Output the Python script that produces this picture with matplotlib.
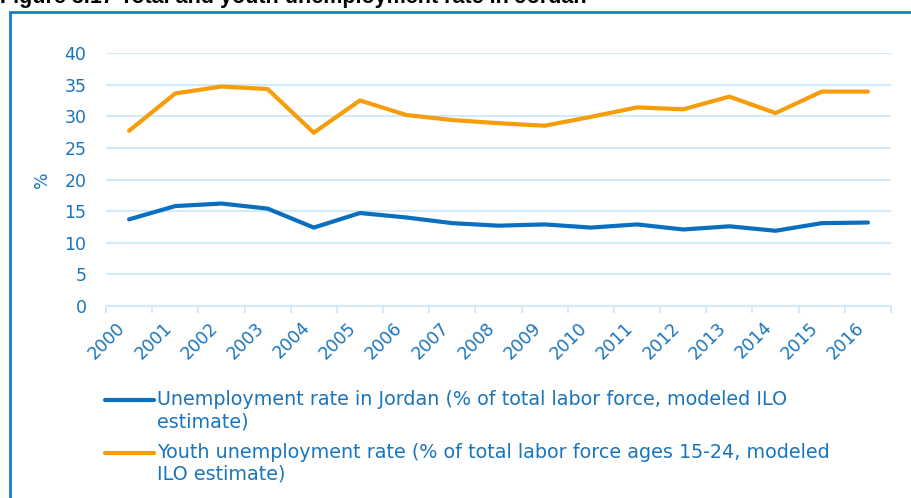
import matplotlib
matplotlib.use('Agg')
import matplotlib.pyplot as plt
import numpy as np
from matplotlib.legend_handler import HandlerLine2D
from matplotlib.patches import Rectangle
from matplotlib.transforms import ScaledTranslation

years = [str(y) for y in range(2000, 2017)]
total_rate = [13.7, 15.8, 16.2, 15.4, 12.4, 14.7, 14.0, 13.1, 12.7, 12.9,
              12.4, 12.9, 12.1, 12.6, 11.9, 13.1, 13.2]
youth_rate = [27.7, 33.6, 34.7, 34.3, 27.4, 32.5, 30.2, 29.4, 28.9, 28.5,
              29.9, 31.4, 31.1, 33.1, 30.5, 33.9, 33.9]
labels = ['Unemployment rate in Jordan (% of total labor force, modeled ILO\nestimate)',
          'Youth unemployment rate (% of total labor force ages 15-24, modeled\nILO estimate)']

txt_blue = '#1b75bc'
grid_col = '#d3eafc'
blue = '#0b6fbf'
orange = '#f59d0a'

plt.rcParams['font.family'] = ['DejaVu Sans']
fs = 12.5


class TopHandler(HandlerLine2D):
    # put the legend key next to the first line of a wrapped label
    def create_artists(self, legend, orig_handle, xdescent, ydescent, width, height, fontsize, trans):
        arts = super().create_artists(legend, orig_handle, xdescent, ydescent, width, height, fontsize, trans)
        for a in arts:
            a.set_ydata(np.asarray(a.get_ydata()) + 0.6 * fontsize)
        return arts


fig = plt.figure(figsize=(9.12, 4.98), dpi=100)
ax = fig.add_axes([0.1162, 0.3855, 0.8608, 0.5081])

x = np.arange(len(years))
l1, = ax.plot(x, total_rate, color=blue, lw=3, solid_capstyle='round', solid_joinstyle='round')
l2, = ax.plot(x, youth_rate, color=orange, lw=3, solid_capstyle='round', solid_joinstyle='round')

ax.set_xlim(-0.5, len(years) - 0.5)
ax.set_ylim(0, 40)
ax.set_yticks(np.arange(0, 41, 5))
ax.set_xticks(x)
ax.set_xticklabels(years, rotation=45, ha='right', color=txt_blue, fontsize=fs)
shift = ScaledTranslation(4 / 72, 0, fig.dpi_scale_trans)
for lab in ax.get_xticklabels():
    lab.set_transform(lab.get_transform() + shift)
ax.set_xticks(np.arange(-0.5, len(years), 1), minor=True)
ax.tick_params(axis='x', which='major', length=0, pad=9)
ax.tick_params(axis='x', which='minor', length=5, width=1.5, color=grid_col)
ax.tick_params(axis='y', length=0, pad=14, labelcolor=txt_blue, labelsize=fs)

ax.grid(axis='y', color=grid_col, lw=1.5)
ax.set_axisbelow(True)
for s in ['top', 'right', 'left']:
    ax.spines[s].set_visible(False)
ax.spines['bottom'].set_color(grid_col)
ax.spines['bottom'].set_linewidth(1.5)
ax.set_ylabel('%', color=txt_blue, fontsize=fs, labelpad=9.5)

fig.legend([l1, l2], labels, loc='upper left', bbox_to_anchor=(0.1, 0.243),
           frameon=False, fontsize=13.8, handlelength=2.6, handletextpad=0.12,
           labelcolor=txt_blue, labelspacing=0.6, borderpad=0.2,
           handler_map={l1: TopHandler(), l2: TopHandler()})

# outer frame of the figure box
fig.add_artist(Rectangle((0.0115, -0.1), 1.2, 1.076, transform=fig.transFigure,
                         fill=False, edgecolor='#1a7acc', lw=2, clip_on=False))
fig.text(0.0, 0.994, 'Figure 3.17 Total and youth unemployment rate in Jordan',
         fontsize=15.5, fontweight='bold', family='Liberation Sans', va='baseline', ha='left')

fig.savefig('out.png', dpi=100)
